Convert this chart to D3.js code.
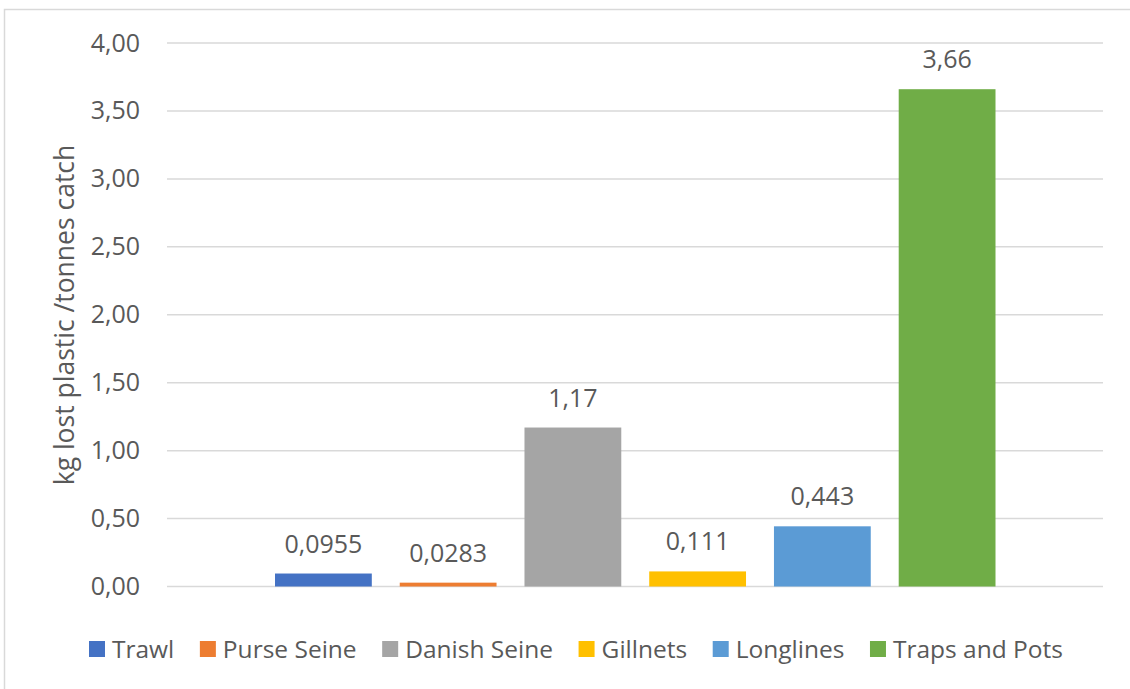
<!DOCTYPE html>
<html>
<head>
<meta charset="utf-8">
<script src="https://cdn.jsdelivr.net/npm/d3@7"></script>
<style>
  html, body { margin: 0; padding: 0; background: #fff; }
  svg { display: block; }
  text { font-family: "Open Sans", "Segoe UI", sans-serif; fill: #595959; }
</style>
</head>
<body>
<svg id="chart" width="1130" height="689"></svg>
<script>
// Gear types and lost plastic per tonne of catch
const gears = ["Trawl", "Purse Seine", "Danish Seine", "Gillnets", "Longlines", "Traps and Pots"];
const values = [0.0955, 0.0283, 1.17, 0.111, 0.443, 3.66];
const valueLabels = ["0,0955", "0,0283", "1,17", "0,111", "0,443", "3,66"];
const colors = ["#4472C4", "#ED7D31", "#A5A5A5", "#FFC000", "#5B9BD5", "#70AD47"];
const yTicks = [0, 0.5, 1, 1.5, 2, 2.5, 3, 3.5, 4];
const yTitle = "kg lost plastic /tonnes catch";

const svg = d3.select("#chart");
const W = 1130, H = 689;
const plot = { left: 167, right: 1103, top: 43, bottom: 586.5 };

// chart border
svg.append("rect")
  .attr("x", 4.5).attr("y", 9.5)
  .attr("width", W + 10).attr("height", H + 10)
  .attr("fill", "#fff").attr("stroke", "#D9D9D9").attr("stroke-width", 1.5);

const y = d3.scaleLinear().domain([0, 4]).range([plot.bottom, plot.top]);

// single category holding all six series
const x = d3.scaleBand().domain(gears)
  .range([275, 995.5]).paddingInner(0.224).paddingOuter(0);

// gridlines
svg.append("g").selectAll("line").data(yTicks).join("line")
  .attr("x1", plot.left).attr("x2", plot.right)
  .attr("y1", d => y(d)).attr("y2", d => y(d))
  .attr("stroke", "#D9D9D9").attr("stroke-width", 1.5);

// y axis labels
const fmt = d => d.toFixed(2).replace(".", ",");
const yAxis = d3.axisLeft(y).tickValues(yTicks).tickFormat(fmt).tickSize(0).tickPadding(0);
const gy = svg.append("g").attr("transform", `translate(140,0)`).call(yAxis);
gy.select(".domain").remove();
gy.selectAll("text")
  .attr("font-size", 25).attr("fill", "#595959")
  .style("font-family", '"Open Sans", sans-serif');

// bars
svg.append("g").selectAll("rect").data(gears).join("rect")
  .attr("x", d => x(d))
  .attr("width", x.bandwidth())
  .attr("y", (d, i) => y(values[i]))
  .attr("height", (d, i) => y(0) - y(values[i]))
  .attr("fill", (d, i) => colors[i]);

// value labels
svg.append("g").selectAll("text").data(gears).join("text")
  .attr("x", d => x(d) + x.bandwidth() / 2)
  .attr("y", (d, i) => y(values[i]) - 21)
  .attr("text-anchor", "middle")
  .attr("font-size", 25)
  .text((d, i) => valueLabels[i]);

// y axis title
svg.append("text")
  .attr("transform", `translate(74,315) rotate(-90)`)
  .attr("text-anchor", "middle")
  .attr("font-size", 26.5)
  .text(yTitle);

// legend, spread between fixed outer edges
const legend = svg.append("g").attr("transform", "translate(89,649)");
const items = legend.selectAll("g").data(gears).join("g");
items.append("rect").attr("width", 16).attr("height", 16).attr("y", -8)
  .attr("fill", (d, i) => colors[i]);
items.append("text").attr("x", 23).attr("dy", "0.35em")
  .attr("font-size", 24.5).text(d => d);
const widths = [];
items.each(function () {
  widths.push(23 + d3.select(this).select("text").node().getComputedTextLength());
});
const gap = (1063 - 89 - d3.sum(widths)) / (gears.length - 1);
let cx = 0;
items.each(function (d, i) {
  d3.select(this).attr("transform", `translate(${cx},0)`);
  cx += widths[i] + gap;
});
</script>
</body>
</html>
